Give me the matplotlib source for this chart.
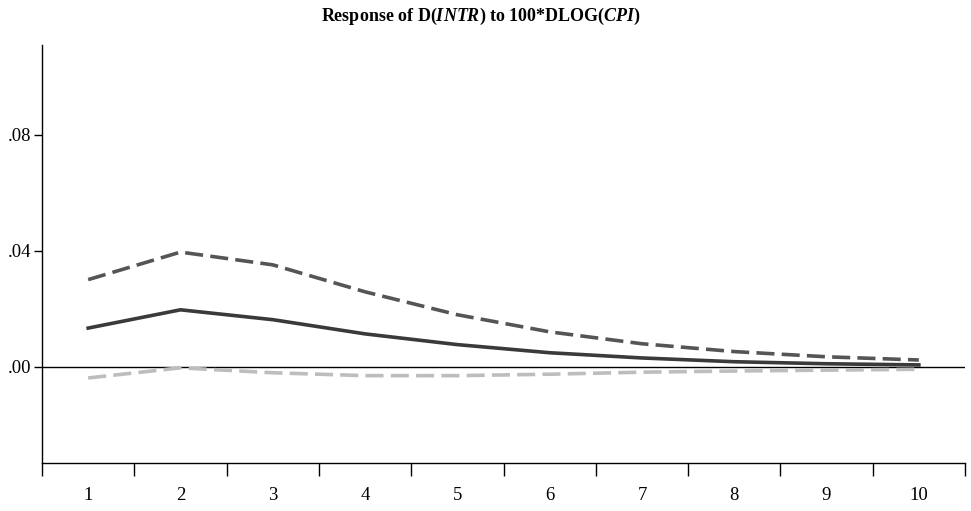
import numpy as np
import matplotlib.pyplot as plt
from matplotlib.ticker import FixedLocator, FuncFormatter

plt.rcParams['font.family'] = 'Liberation Serif'
plt.rcParams['mathtext.fontset'] = 'custom'
plt.rcParams['mathtext.rm'] = 'Liberation Serif:bold'
plt.rcParams['mathtext.it'] = 'Liberation Serif:italic:bold'

# impulse response of D(INTR) to 100*DLOG(CPI)
periods = [1, 2, 3, 4, 5, 6, 7, 8, 9, 10]
response = [0.0134, 0.0197, 0.0163, 0.0114, 0.0077, 0.0049, 0.0031, 0.0018, 0.0011, 0.0007]
upper = [0.0301, 0.0396, 0.0352, 0.0259, 0.0180, 0.0121, 0.0080, 0.0053, 0.0035, 0.0024]
lower = [-0.0038, -0.0003, -0.0020, -0.0030, -0.0030, -0.0025, -0.0018, -0.0014, -0.0011, -0.0008]
yticks = [0.00, 0.04, 0.08]

fig = plt.figure(figsize=(9.71, 5.11), dpi=100)
ax = fig.add_axes([0.0433, 0.094, 0.9505, 0.818])

ax.axhline(0, color='black', lw=1.0, zorder=1)
ax.plot(periods, upper, color='#555555', lw=2.6, ls=(0, (5, 2.0)), zorder=3)
ax.plot(periods, response, color='#3a3a3a', lw=2.6, zorder=3)
ax.plot(periods, lower, color='#bdbdbd', lw=2.6, ls=(0, (5, 2.0)), zorder=2)

ax.set_xlim(0.5, 10.5)
ax.set_ylim(-0.0331, 0.111)

ax.spines['top'].set_visible(False)
ax.spines['right'].set_visible(False)
ax.spines['left'].set_linewidth(1.0)
ax.spines['bottom'].set_linewidth(1.0)

ax.xaxis.set_major_locator(FixedLocator(np.arange(0.5, 11, 1.0)))
ax.xaxis.set_major_formatter(FuncFormatter(lambda v, p: ''))
ax.xaxis.set_minor_locator(FixedLocator(periods))
ax.xaxis.set_minor_formatter(FuncFormatter(lambda v, p: '%d' % v))
ax.tick_params(axis='x', which='major', direction='out', length=9, width=1.0)
ax.tick_params(axis='x', which='minor', length=0, pad=17, labelsize=13.5)

ax.set_yticks(yticks)
ax.yaxis.set_major_formatter(FuncFormatter(lambda v, p: ('%.2f' % v).lstrip('0').replace('-0', '-')))
ax.tick_params(axis='y', direction='out', length=6, width=1.0, labelsize=13.5, pad=2)

fig.text(0.495, 0.988, r'Response of D($\mathit{INTR}$) to 100*DLOG($\mathit{CPI}$)',
         ha='center', va='top', fontsize=13, fontweight='bold')

fig.savefig('out.png', dpi=100)
